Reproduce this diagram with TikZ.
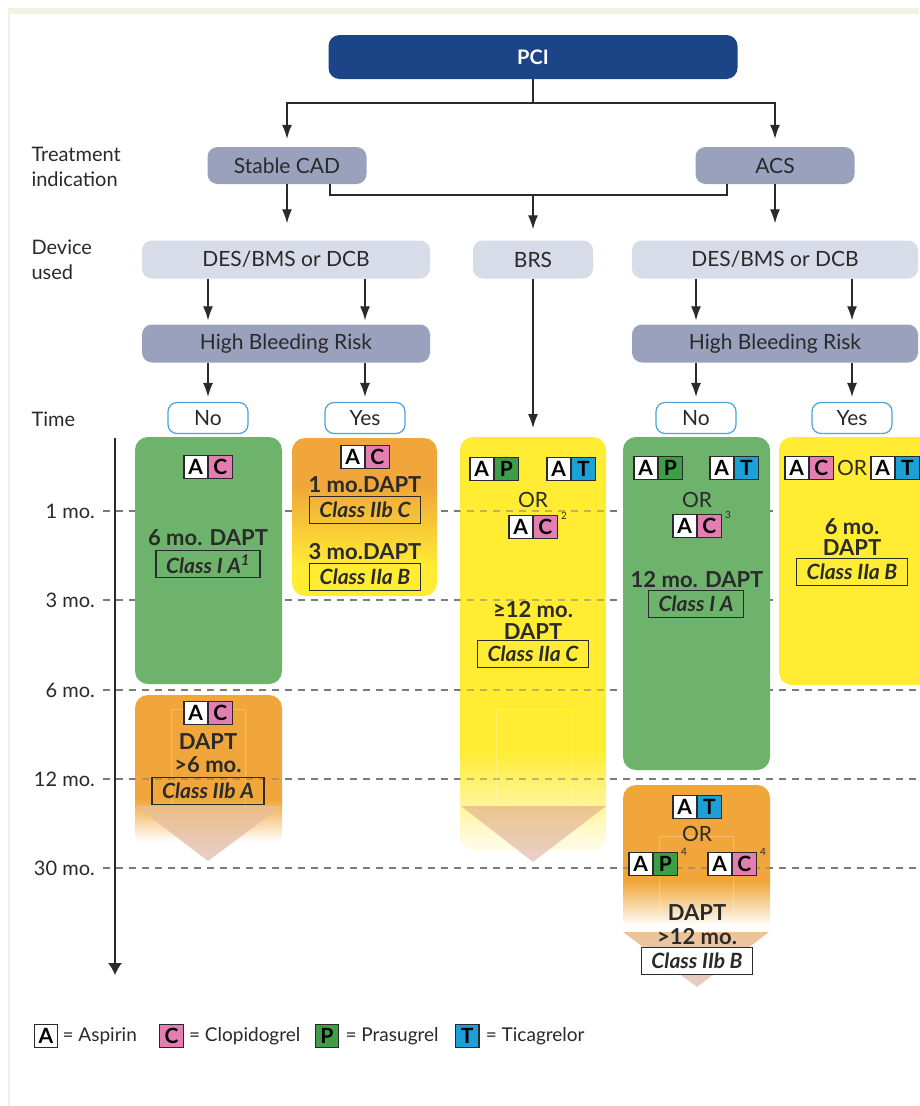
\documentclass[tikz,border=0pt]{standalone}
\usepackage{fontspec}
\setmainfont{Lato}
\usepackage{tikz}
\usetikzlibrary{arrows.meta}
\usetikzlibrary{positioning}

\definecolor{pciblue}{HTML}{1C4587}
\definecolor{indgray}{HTML}{9AA1BD}
\definecolor{devgray}{HTML}{D8DBE8}
\definecolor{nyblue}{HTML}{4BA3D9}
\definecolor{panelgreen}{HTML}{6DB36B}
\definecolor{panelorange}{HTML}{F0A63A}
\definecolor{panelyellow}{HTML}{FFEC33}
\definecolor{yellowpale}{HTML}{FFFBE0}
\definecolor{drugpink}{HTML}{E47DB2}
\definecolor{druggreen}{HTML}{3E9E47}
\definecolor{drugblue}{HTML}{1BA0D8}
\definecolor{inkgray}{HTML}{2A2A2A}
\definecolor{framebeige}{HTML}{F3F0E4}
\definecolor{arrowtan}{HTML}{EABD8B}
\definecolor{arrowpink}{HTML}{E6C8C2}
\definecolor{dashgray}{HTML}{7A7A7A}

\pgfdeclareverticalshading{orangetoyellow}{100bp}{color(0bp)=(panelyellow); color(34bp)=(panelyellow); color(60bp)=(panelorange); color(100bp)=(panelorange)}
\pgfdeclareverticalshading{yellowfade}{100bp}{color(0bp)=(white); color(26bp)=(yellowpale); color(37bp)=(panelyellow); color(100bp)=(panelyellow)}
\pgfdeclareverticalshading{orangefadeleft}{100bp}{color(0bp)=(white); color(27bp)=(white); color(41bp)=(panelorange); color(100bp)=(panelorange)}
\pgfdeclareverticalshading{orangefaderight}{100bp}{color(0bp)=(white); color(28bp)=(white); color(43bp)=(panelorange); color(100bp)=(panelorange)}

\tikzset{
  flow/.style = {draw = inkgray, line width = 1.3pt, -{Latex[length = 14pt, width = 10pt]}},
  link/.style = {draw = inkgray, line width = 1.3pt},
  pcibox/.style = {fill = pciblue, rounded corners = 11pt, minimum width = 409pt, minimum height = 44pt, text = white, font = \bfseries\fontsize{20}{20}\selectfont},
  indbox/.style = {fill = indgray, rounded corners = 10pt, minimum height = 37pt, text = inkgray, font = \fontsize{21}{21}\selectfont},
  devbox/.style = {fill = devgray, rounded corners = 10pt, minimum height = 38pt, text = inkgray, font = \fontsize{21}{21}\selectfont},
  nybox/.style = {draw = nyblue, line width = 1.2pt, fill = white, rounded corners = 9pt, minimum width = 80pt, minimum height = 31pt, text = inkgray, font = \fontsize{21}{21}\selectfont},
  sidelab/.style = {anchor = west, align = left, text = inkgray, font = \fontsize{20}{25}\selectfont},
  timelab/.style = {anchor = east, inner sep = 0pt, text = inkgray, font = \fontsize{20}{20}\selectfont},
  dashline/.style = {draw = dashgray, line width = 1.2pt, dash pattern = on 7pt off 6pt},
  cellbox/.style = {draw = inkgray, line width = 1.3pt, fill = white, minimum size = 23.5pt, inner sep = 0pt, font = \bfseries\fontsize{21}{21}\selectfont},
  dapt/.style = {inner sep = 0pt, align = center, text = inkgray, font = \bfseries\fontsize{22}{22}\selectfont},
  classbox/.style = {draw = inkgray, line width = 1.2pt, inner xsep = 10pt, minimum height = 27pt, text = inkgray, font = \bfseries\itshape\fontsize{21}{21}\selectfont},
  ortext/.style = {inner sep = 0pt, text = inkgray, font = \fontsize{21}{21}\selectfont},
  supnum/.style = {inner sep = 0pt, text = inkgray, font = \fontsize{10}{10}\selectfont},
  legtext/.style = {inner sep = 0pt, text = inkgray, font = \fontsize{19}{19}\selectfont},
  shaft/.style = {draw = white, draw opacity = .25, line width = 1pt}
}

% A-box plus second drug box, joined at the given point
\newcommand{\drugpair}[4]{%
  \node [cellbox, anchor = east] (#1a) at (#2) {A};
  \node [cellbox, anchor = west, fill = #4] (#1b) at (#2) {#3};
}

\begin{document}
\begin{tikzpicture}[x = 1pt, y = -1pt]
        \useasboundingbox (0, 0) rectangle (919, 1106);
        \fill [white] (0, 0) rectangle (919, 1106);
        \fill [framebeige] (8, 8) rectangle (919, 14);
        \draw [framebeige, line width = 1.5pt] (9, 14) -- (9, 1106);

        % time axis
        \foreach \yy/\lab in {511/1 mo., 600/3 mo., 690/6 mo., 779/12 mo., 868/30 mo.} {
            \node [timelab] (t\yy) at (95, \yy) {\lab};
            \draw [dashline] (103, \yy) -- (919, \yy);
        }
        \coordinate (axtop) at (115, 438);
        \coordinate (axend) at (115, 975);
        \draw [draw = inkgray, line width = 1.3pt, -{Latex[length = 12pt, width = 14pt]}] (axtop) -- (axend);

        % panels
        \fill [panelgreen, rounded corners = 13pt] (135, 437) rectangle (282, 684);
        \shade [shading = orangetoyellow, rounded corners = 13pt] (292, 438) rectangle (437, 596);
        \fill [panelgreen, rounded corners = 13pt] (623, 437) rectangle (770, 770);
        \fill [panelyellow, rounded corners = 13pt] (779, 437) rectangle (945, 685);
        \shade [shading = yellowfade, rounded corners = 13pt] (460, 437) rectangle (606, 850);
        \shade [shading = orangefadeleft, rounded corners = 13pt] (135, 695) rectangle (282, 848);
        \shade [shading = orangefaderight, rounded corners = 13pt] (623, 785) rectangle (770, 935);

        % dashes seen through the faded panels
        \begin{scope}
            \clip (460, 437) rectangle (606, 850) (135, 695) rectangle (282, 848) (623, 785) rectangle (770, 935);
            \foreach \yy in {511, 600, 690, 779, 868}
                \draw [dashline, draw opacity = .5] (103, \yy) -- (919, \yy);
        \end{scope}

        % down arrows in the panels
        \draw [shaft] (171, 806) -- (171, 709) -- (245, 709) -- (245, 806);
        \shade [top color = arrowtan, bottom color = arrowpink, opacity = .9] (136, 806) -- (282, 806) -- (208, 861) -- cycle;
        \draw [shaft] (496, 806) -- (496, 709) -- (571, 709) -- (571, 806);
        \shade [top color = arrowtan, bottom color = arrowpink, opacity = .85] (461, 806) -- (606, 806) -- (533, 862) -- cycle;
        \draw [shaft] (659, 932) -- (659, 836) -- (733, 836) -- (733, 932);
        \shade [top color = arrowtan, bottom color = arrowpink, opacity = .9] (623, 932) -- (769, 932) -- (697, 987) -- cycle;

        % flow chart
        \node [pcibox] (pci) at (533, 57) {PCI};
        \node [indbox, minimum width = 159pt] (cad) at (287, 165.5) {Stable CAD};
        \node [indbox, minimum width = 159pt] (acs) at (775, 165.5) {ACS};
        \node [devbox, minimum width = 288pt] (devl) at (286, 259.5) {DES/BMS or DCB};
        \node [devbox, minimum width = 120pt] (brs) at (533, 259.5) {BRS};
        \node [devbox, minimum width = 286pt] (devr) at (775, 259.5) {DES/BMS or DCB};
        \node [indbox, minimum width = 288pt, minimum height = 38pt] (hbrl) at (286, 343.5) {High Bleeding Risk};
        \node [indbox, minimum width = 286pt, minimum height = 38pt] (hbrr) at (775, 343.5) {High Bleeding Risk};
        \node [nybox] (nol) at (208, 418) {No};
        \node [nybox] (yesl) at (365, 418) {Yes};
        \node [nybox] (nor) at (696, 418) {No};
        \node [nybox] (yesr) at (852, 418) {Yes};
        \coordinate (split) at (533, 103);
        \coordinate (join) at (533, 195);
        \coordinate (brspanel) at (533, 437);

        \draw [flow, shorten > = 8pt] (pci.south) -- (split) -| (cad.north);
        \draw [flow, shorten > = 8pt] (split) -| (acs.north);
        \draw [link] ([xshift = 43pt]cad.south) |- (join) -| ([xshift = -48pt]acs.south);
        \draw [flow, shorten > = 11pt] (join) -- (brs.north);
        \draw [flow, shorten > = 17pt] (cad.south) -- (cad.south |- devl.north);
        \draw [flow, shorten > = 17pt] (acs.south) -- (acs.south |- devr.north);
        \draw [flow, shorten > = 4pt] (devl.south -| nol) -- (hbrl.north -| nol);
        \draw [flow, shorten > = 4pt] (devl.south -| yesl) -- (hbrl.north -| yesl);
        \draw [flow, shorten > = 4pt] (devr.south -| nor) -- (hbrr.north -| nor);
        \draw [flow, shorten > = 4pt] (devr.south -| yesr) -- (hbrr.north -| yesr);
        \draw [flow, shorten > = 5pt] (hbrl.south -| nol) -- (nol.north);
        \draw [flow, shorten > = 5pt] (hbrl.south -| yesl) -- (yesl.north);
        \draw [flow, shorten > = 5pt] (hbrr.south -| nor) -- (nor.north);
        \draw [flow, shorten > = 5pt] (hbrr.south -| yesr) -- (yesr.north);
        \draw [flow, shorten > = 9pt] (brs.south) -- (brspanel);

        \node [sidelab] (lbtreat) at (28, 167) {Treatment\\indication};
        \node [sidelab] (lbdevice) at (28, 259.5) {Device\\used};
        \node [sidelab] (lbtime) at (28, 419) {Time};

        % stable CAD, no HBR
        \drugpair{gl}{208, 467}{C}{drugpink}
        \node [dapt] (gldapt) at (208, 538) {6 mo. DAPT};
        \node [classbox] (glclass) at (208, 564) {Class I A\textsuperscript{1}};
        \drugpair{ol}{208, 713}{C}{drugpink}
        \node [dapt] (oldapt) at (208, 742) {DAPT};
        \node [dapt] (olmo) at (208, 765) {>6 mo.};
        \node [classbox] (olclass) at (208, 791) {Class IIb A};

        % stable CAD, HBR
        \drugpair{yl}{365, 457}{C}{drugpink}
        \node [dapt] (yldapt) at (365, 485) {1 mo.DAPT};
        \node [classbox] (ylclass) at (365, 510) {Class IIb C};
        \node [dapt] (yldaptb) at (365, 552) {3 mo.DAPT};
        \node [classbox] (ylclassb) at (365, 577) {Class IIa B};

        % BRS
        \drugpair{bp}{494, 469}{P}{druggreen}
        \drugpair{bt}{571, 469}{T}{drugblue}
        \node [ortext] (bor) at (533, 500) {OR};
        \drugpair{bc}{533, 527}{C}{drugpink}
        \node [supnum, anchor = north west] (bsup) at ([xshift = 3pt, yshift = 3pt]bcb.north east) {2};
        \node [dapt] (bmo) at (533, 610) {≥12 mo.};
        \node [dapt] (bdapt) at (533, 632) {DAPT};
        \node [classbox] (bclass) at (533, 654) {Class IIa C};

        % ACS, no HBR
        \drugpair{rp}{658, 468}{P}{druggreen}
        \drugpair{rt}{734, 468}{T}{drugblue}
        \node [ortext] (ror) at (697, 500) {OR};
        \drugpair{rc}{697, 526}{C}{drugpink}
        \node [supnum, anchor = north west] (rsup) at ([xshift = 3pt, yshift = 3pt]rcb.north east) {3};
        \node [dapt] (rdapt) at (697, 580) {12 mo. DAPT};
        \node [classbox] (rclass) at (696, 604) {Class I A};
        \drugpair{ot}{697, 807}{T}{drugblue}
        \node [ortext] (oor) at (697, 834) {OR};
        \drugpair{op}{653, 864}{P}{druggreen}
        \node [supnum, anchor = north west] (opsup) at ([xshift = 3pt, yshift = 3pt]opb.north east) {4};
        \drugpair{oc}{732, 864}{C}{drugpink}
        \node [supnum, anchor = north west] (ocsup) at ([xshift = 3pt, yshift = 3pt]ocb.north east) {4};
        \node [dapt] (odapt) at (697, 913) {DAPT};
        \node [dapt] (omo) at (697, 937) {>12 mo.};
        \node [classbox, fill = white] (oclass) at (697, 961) {Class IIb B};

        % ACS, HBR
        \drugpair{yc}{809, 468}{C}{drugpink}
        \node [ortext] (yor) at (852, 468) {OR};
        \drugpair{yt}{895, 468}{T}{drugblue}
        \node [dapt] (ymo) at (852, 527) {6 mo.};
        \node [dapt] (ydapt) at (852, 548) {DAPT};
        \node [classbox] (yclass) at (852, 572) {Class IIa B};

        % legend
        \node [cellbox] (legA) at (46, 1036) {A};
        \node [legtext, right = 4pt of legA] (legAt) {= Aspirin};
        \node [cellbox, fill = drugpink, right = 22pt of legAt] (legC) {C};
        \node [legtext, right = 5pt of legC] (legCt) {= Clopidogrel};
        \node [cellbox, fill = druggreen, right = 14pt of legCt] (legP) {P};
        \node [legtext, right = 6pt of legP] (legPt) {= Prasugrel};
        \node [cellbox, fill = drugblue, right = 16pt of legPt] (legT) {T};
        \node [legtext, right = 6pt of legT] (legTt) {= Ticagrelor};
    \end{tikzpicture}
\end{document}
